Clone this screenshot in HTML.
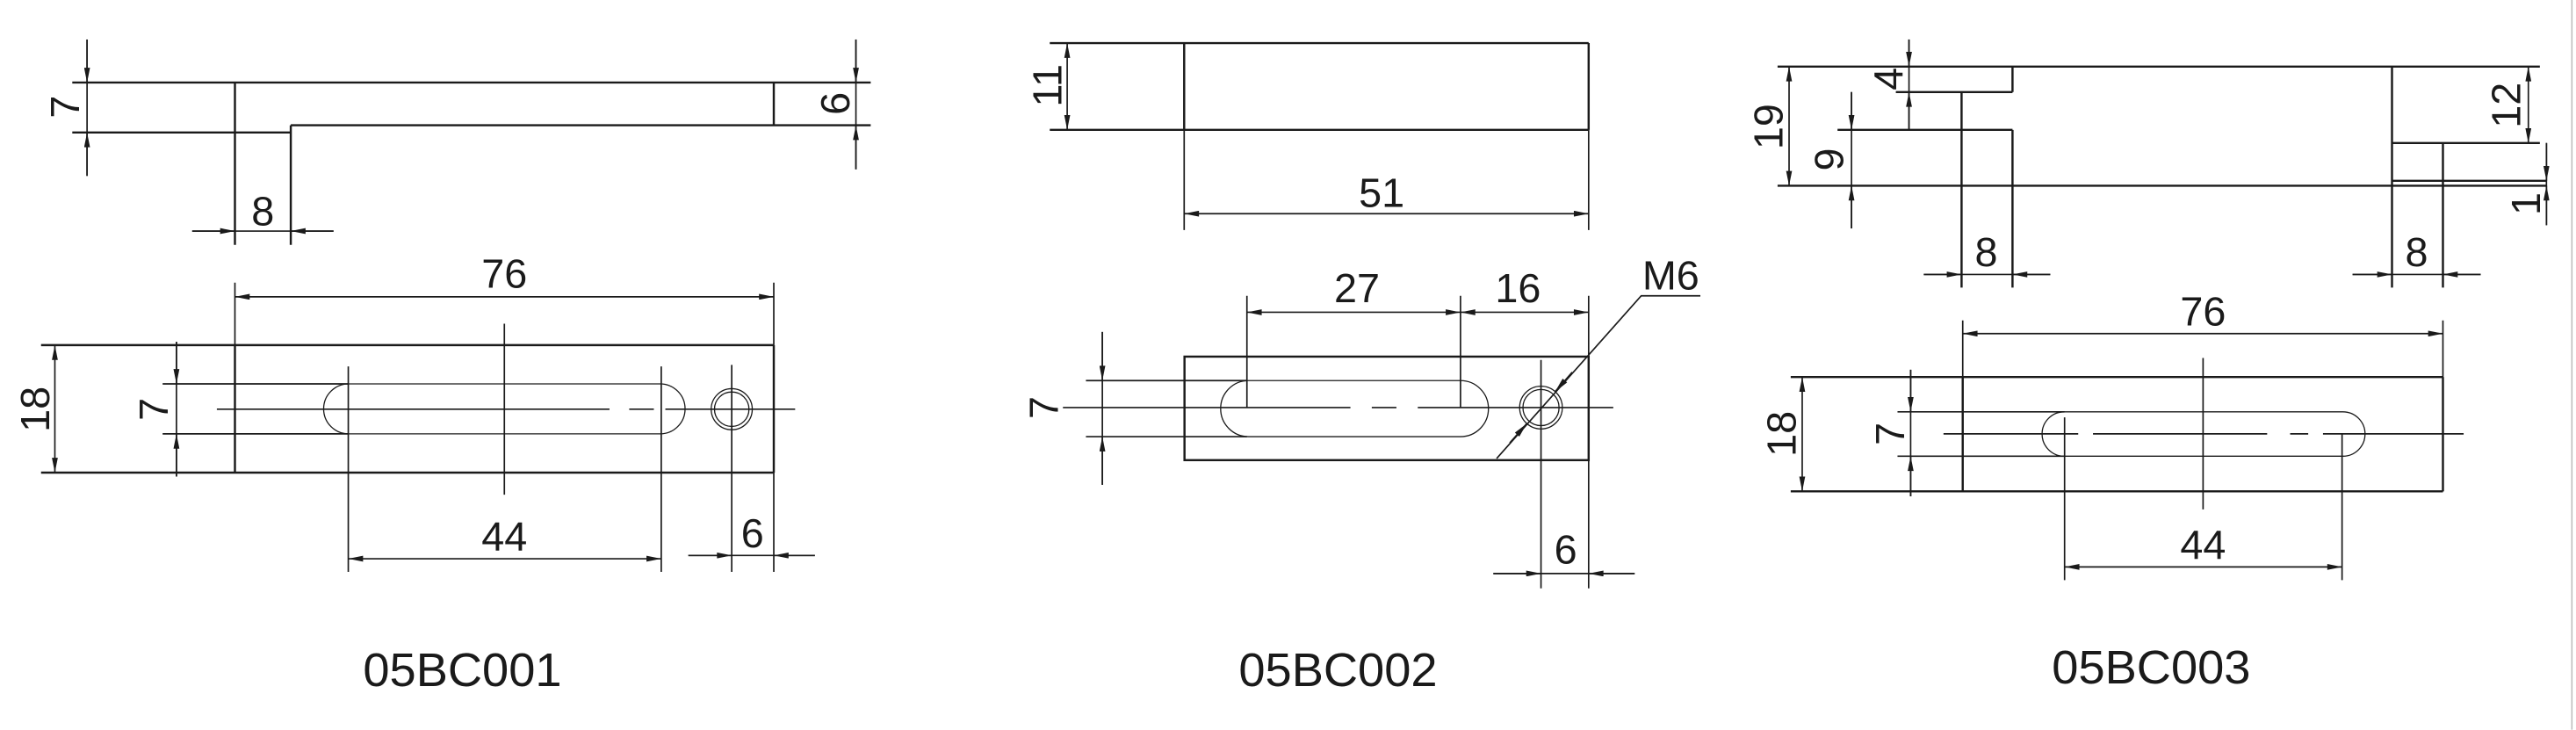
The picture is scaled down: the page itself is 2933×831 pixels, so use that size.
<!DOCTYPE html>
<html><head><meta charset="utf-8"><style>
html,body{margin:0;padding:0;background:#fff;}
svg{display:block;}
text{font-family:"Liberation Sans",sans-serif;fill:#1a1a1a;}
.t{font-size:25px;}
.h{font-size:29px;}
</style></head><body>
<svg width="2933" height="831" viewBox="0 0 1568 444.2" xmlns="http://www.w3.org/2000/svg">
<defs>
<marker id="a" viewBox="0 0 10 4" refX="10" refY="2" markerWidth="12" markerHeight="3.6" markerUnits="userSpaceOnUse" orient="auto"><path d="M0,0 L10,2 L0,4 z" fill="#1a1a1a"/></marker>
<marker id="s" viewBox="0 0 10 4" refX="10" refY="2" markerWidth="12" markerHeight="3.6" markerUnits="userSpaceOnUse" orient="auto-start-reverse"><path d="M0,0 L10,2 L0,4 z" fill="#1a1a1a"/></marker>
</defs>
<g stroke="#1a1a1a" fill="none" stroke-width="1.3">
<!-- ===== Part 1 top ===== -->
<path d="M44,50.2H530 M44,80.6H177 M177,76.2V149 M177,76.2H530 M143,50.2V149 M471,50.2V76.2"/>
<g stroke-width="0.9">
<path d="M53,24V107"/>
<path d="M53,24V50.2" marker-end="url(#a)"/><path d="M53,107V80.6" marker-end="url(#a)"/>
<path d="M521,24V103"/>
<path d="M521,24V50.2" marker-end="url(#a)"/><path d="M521,103V76.2" marker-end="url(#a)"/>
<path d="M117,140.6H203"/>
<path d="M117,140.6H143" marker-end="url(#a)"/><path d="M203,140.6H177" marker-end="url(#a)"/>
</g>
<!-- ===== Part 1 front ===== -->
<path d="M25,210H471 M25,287.6H471 M143,210V287.6 M471,210V287.6"/>
<g stroke-width="0.9">
<path d="M143,172V210 M471,172V210"/>
<path d="M143,180.6H471" marker-start="url(#s)" marker-end="url(#s)"/>
<path d="M33.4,210V287.6" marker-start="url(#s)" marker-end="url(#s)"/>
<path d="M99,233.6H212 M99,264H212"/>
<path d="M107.4,208V290"/>
<path d="M107.4,208V233.6" marker-end="url(#a)"/><path d="M107.4,290V264" marker-end="url(#a)"/>
<rect x="197" y="233.6" width="220" height="30.4" rx="15.2" stroke-width="0.7"/>
<path d="M132,249H371 M383,249H398 M405,249H484"/>
<path d="M307,197V301"/>
<path d="M212,223V348 M402.5,223V348"/>
<path d="M212,340H402.5" marker-start="url(#s)" marker-end="url(#s)"/>
<circle cx="445.4" cy="249" r="12.5" stroke-width="0.7"/>
<circle cx="445.4" cy="249" r="10.5" stroke-width="0.7"/>
<path d="M445.4,222V348 M471,287.6V348"/>
<path d="M419,338H496"/>
<path d="M419,338H445.4" marker-end="url(#a)"/><path d="M496,338H471" marker-end="url(#a)"/>
</g>
<!-- ===== Part 2 top ===== -->
<path d="M639,26.2H967 M639,79H967 M720.8,26.2V79 M967,26.2V79"/>
<g stroke-width="0.9">
<path d="M649.6,26.2V79" marker-start="url(#s)" marker-end="url(#s)"/>
<path d="M720.8,79V140 M967,79V140"/>
<path d="M720.8,130H967" marker-start="url(#s)" marker-end="url(#s)"/>
</g>
<!-- ===== Part 2 front ===== -->
<rect x="721" y="217" width="246" height="63"/>
<g stroke-width="0.9">
<rect x="743" y="231.6" width="163" height="34.1" rx="17" stroke-width="0.7"/>
<path d="M661,231.6H759 M661,265.7H759"/>
<path d="M647,248H822 M835,248H850 M863,248H982"/>
<path d="M671,202V295"/>
<path d="M671,202V231.6" marker-end="url(#a)"/><path d="M671,295V265.7" marker-end="url(#a)"/>
<path d="M759,180V248 M889,180V248 M967,180V217"/>
<path d="M759,190H889" marker-start="url(#s)" marker-end="url(#s)"/>
<path d="M889,190H967" marker-start="url(#s)" marker-end="url(#s)"/>
<circle cx="938" cy="248" r="13" stroke-width="0.7"/>
<circle cx="938" cy="248" r="11" stroke-width="0.7"/>
<path d="M938,219V358 M967,280V358"/>
<path d="M909,349H995"/>
<path d="M909,349H938" marker-end="url(#a)"/><path d="M995,349H967" marker-end="url(#a)"/>
<path d="M911,279L999,180H1035"/>
<path d="M957,226.5L946.6,238.3" marker-end="url(#a)"/>
<path d="M919,269.5L929.4,257.7" marker-end="url(#a)"/>
</g>
<!-- ===== Part 3 top ===== -->
<path d="M1082,40.5H1546 M1082,113H1550 M1154,56H1225 M1225,40.5V56 M1194,56V175 M1118.5,79H1225 M1225,79V175 M1456,40.5V175 M1456,87H1546 M1487,87V175 M1456,110H1550"/>
<g stroke-width="0.9">
<path d="M1089,40.5V113" marker-start="url(#s)" marker-end="url(#s)"/>
<path d="M1162,24V79"/>
<path d="M1162,24V40.5" marker-end="url(#a)"/><path d="M1162,79V56" marker-end="url(#a)"/>
<path d="M1127,56V139"/>
<path d="M1127,56V79" marker-end="url(#a)"/><path d="M1127,139V113" marker-end="url(#a)"/>
<path d="M1539,40.5V87" marker-start="url(#s)" marker-end="url(#s)"/>
<path d="M1550,87V137"/>
<path d="M1550,87V110" marker-end="url(#a)"/><path d="M1550,137V113" marker-end="url(#a)"/>
<path d="M1171,167H1248"/>
<path d="M1171,167H1194" marker-end="url(#a)"/><path d="M1248,167H1225" marker-end="url(#a)"/>
<path d="M1432,167H1510"/>
<path d="M1432,167H1456" marker-end="url(#a)"/><path d="M1510,167H1487" marker-end="url(#a)"/>
</g>
<!-- ===== Part 3 front ===== -->
<path d="M1090,229.4H1487 M1090,299H1487 M1194.7,229.4V299 M1487,229.4V299" />
<g stroke-width="0.9">
<path d="M1194.7,195V229.4 M1487,195V229.4"/>
<path d="M1194.7,203H1487" marker-start="url(#s)" marker-end="url(#s)"/>
<path d="M1097,229.4V299" marker-start="url(#s)" marker-end="url(#s)"/>
<path d="M1155,250.6H1256.7 M1155,277.6H1256.7"/>
<path d="M1163,225V302"/>
<path d="M1163,225V250.6" marker-end="url(#a)"/><path d="M1163,302V277.6" marker-end="url(#a)"/>
<rect x="1243" y="250.6" width="196.6" height="27" rx="13.5" stroke-width="0.7"/>
<path d="M1183,264H1265 M1274,264H1380 M1394,264H1405 M1414,264H1499.6"/>
<path d="M1341,217.8V310"/>
<path d="M1256.7,254V353 M1425.6,264V353"/>
<path d="M1256.7,345H1425.6" marker-start="url(#s)" marker-end="url(#s)"/>
</g>
<path d="M1565.5,0V444" stroke="#bbb" stroke-width="0.8"/>
</g>
<!-- labels -->
<text class="t" transform="translate(48,65) rotate(-90)" text-anchor="middle">7</text>
<text class="t" transform="translate(517,63) rotate(-90)" text-anchor="middle">6</text>
<text class="t" x="160" y="137" text-anchor="middle">8</text>
<text class="t" x="307" y="175" text-anchor="middle">76</text>
<text class="t" transform="translate(30,249) rotate(-90)" text-anchor="middle">18</text>
<text class="t" transform="translate(102,249) rotate(-90)" text-anchor="middle">7</text>
<text class="t" x="307" y="335" text-anchor="middle">44</text>
<text class="t" x="458" y="333" text-anchor="middle">6</text>
<text class="h" x="221" y="417.6">05BC001</text>

<text class="t" transform="translate(646,52) rotate(-90)" text-anchor="middle">11</text>
<text class="t" x="841" y="126" text-anchor="middle">51</text>
<text class="t" transform="translate(644,248) rotate(-90)" text-anchor="middle">7</text>
<text class="t" x="826" y="184" text-anchor="middle">27</text>
<text class="t" x="924" y="184" text-anchor="middle">16</text>
<text class="t" x="1017" y="176" text-anchor="middle">M6</text>
<text class="t" x="953" y="343" text-anchor="middle">6</text>
<text class="h" x="754" y="417.6">05BC002</text>

<text class="t" transform="translate(1085,77) rotate(-90)" text-anchor="middle">19</text>
<text class="t" transform="translate(1158,48) rotate(-90)" text-anchor="middle">4</text>
<text class="t" transform="translate(1122,97) rotate(-90)" text-anchor="middle">9</text>
<text class="t" transform="translate(1534,64) rotate(-90)" text-anchor="middle">12</text>
<text class="t" transform="translate(1546,124) rotate(-90)" text-anchor="middle">1</text>
<text class="t" x="1209" y="162" text-anchor="middle">8</text>
<text class="t" x="1471" y="162" text-anchor="middle">8</text>
<text class="t" x="1341" y="198" text-anchor="middle">76</text>
<text class="t" transform="translate(1093,264) rotate(-90)" text-anchor="middle">18</text>
<text class="t" transform="translate(1159,264) rotate(-90)" text-anchor="middle">7</text>
<text class="t" x="1341" y="340" text-anchor="middle">44</text>
<text class="h" x="1249" y="416">05BC003</text>
</svg>
</body></html>
